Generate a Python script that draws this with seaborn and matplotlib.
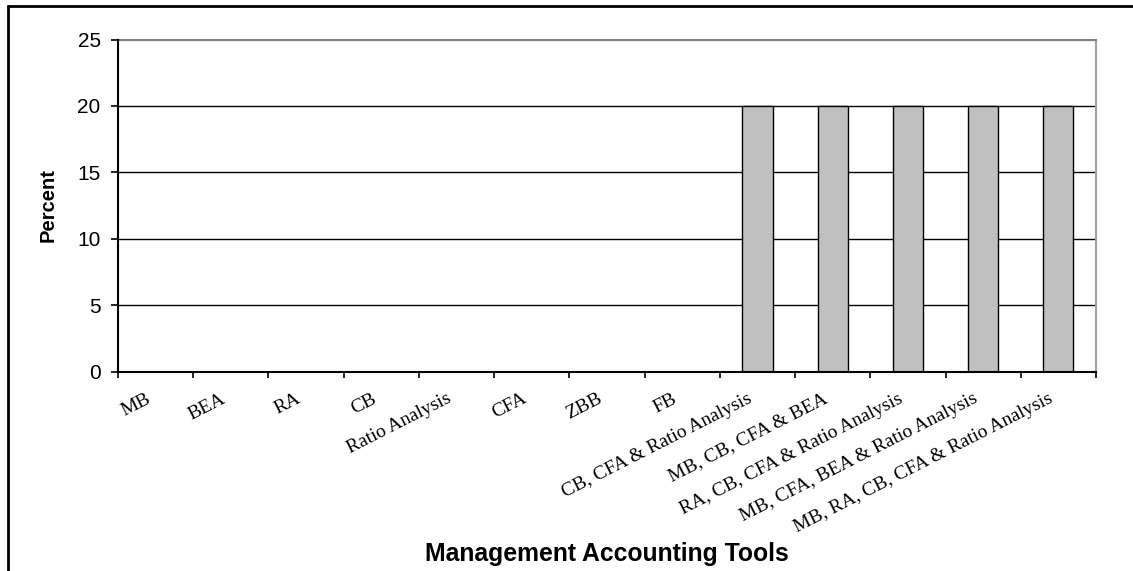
import matplotlib
matplotlib.use("Agg")
import matplotlib.pyplot as plt
import matplotlib.transforms as mtransforms
from matplotlib.lines import Line2D
import seaborn as sns
import pandas as pd
import numpy as np

categories = ["MB", "BEA", "RA", "CB", "Ratio Analysis", "CFA", "ZBB", "FB",
              "CB, CFA & Ratio Analysis", "MB, CB, CFA & BEA",
              "RA, CB, CFA & Ratio Analysis", "MB, CFA, BEA & Ratio Analysis",
              "MB, RA, CB, CFA & Ratio Analysis"]
percent = [0, 0, 0, 0, 0, 0, 0, 0, 20, 20, 20, 20, 20]
y_ticks = [0, 5, 10, 15, 20, 25]

sns.set_style("white")
plt.rcParams['font.family'] = ['Liberation Sans', 'DejaVu Sans']
plt.rcParams['text.color'] = 'black'
plt.rcParams['axes.labelcolor'] = 'black'
plt.rcParams['xtick.color'] = 'black'
plt.rcParams['ytick.color'] = 'black'

W, H = 1133, 571
fig = plt.figure(figsize=(W / 100, H / 100), dpi=100)
L, R, T, B = 118, 1096, 39.5, 371.5
ax = fig.add_axes([L / W, 1 - B / H, (R - L) / W, (B - T) / H])

df = pd.DataFrame({"tool": categories, "percent": percent})
sns.barplot(data=df, x="tool", y="percent", order=categories, color="#C0C0C0",
            saturation=1, edgecolor="black", linewidth=1.0, width=0.4, ax=ax, zorder=3)

ax.set_xlim(-0.5, len(categories) - 0.5)
ax.set_ylim(0, 25)
ax.set_yticks(y_ticks)
ax.set_yticklabels([str(v) for v in y_ticks], fontsize=15, family='Liberation Sans', color='black')
ax.tick_params(axis='y', direction='out', length=5, width=1.2, color='black', labelcolor='black',
               pad=7.5, left=True)

# x: labels at category centers, ticks at boundaries
ax.set_xticks(np.arange(len(categories)))
ax.set_xticklabels(categories, rotation=27, ha='right', va='top', rotation_mode='anchor',
                   fontsize=14, family='Liberation Serif', color='black')
ax.tick_params(axis='x', which='major', length=0, pad=13.5, labelcolor='black')
shift = mtransforms.ScaledTranslation(-10 / 100, 0, fig.dpi_scale_trans)
for lbl in ax.get_xticklabels():
    lbl.set_transform(lbl.get_transform() + shift)
ax.set_xticks(np.arange(len(categories) + 1) - 0.5, minor=True)
ax.tick_params(axis='x', which='minor', direction='out', length=4, width=1.2, color='black', bottom=True)

# grid
for v in y_ticks[1:-1]:
    ax.axhline(v, color='black', lw=1.0, zorder=1)
ax.axhline(25, color='#808080', lw=1.5, zorder=1)

for s in ['left', 'bottom']:
    ax.spines[s].set_color('black')
    ax.spines[s].set_linewidth(1.5)
    ax.spines[s].set_zorder(5)
ax.spines['top'].set_color('#808080')
ax.spines['top'].set_linewidth(1.5)
ax.spines['right'].set_color('#A0A0A0')
ax.spines['right'].set_linewidth(1.5)

ax.set_xlabel("")
ax.set_ylabel("")
fig.text(48 / W, 1 - 205 / H, "Percent", rotation=90, ha='center', va='center',
         fontsize=14.5, fontweight='bold', family='Liberation Sans', color='black')
fig.text(607 / W, 1 - 561 / H, "Management Accounting Tools", ha='center', va='baseline',
         fontsize=17.8, fontweight='bold', family='Liberation Sans', color='black')

# figure border (top and left visible)
fig.add_artist(Line2D([8 / W, 1], [1 - 5.5 / H, 1 - 5.5 / H], color='black', lw=2, transform=fig.transFigure))
fig.add_artist(Line2D([8 / W, 8 / W], [0, 1 - 5.5 / H], color='black', lw=2, transform=fig.transFigure))

fig.savefig("out.png", dpi=100)
